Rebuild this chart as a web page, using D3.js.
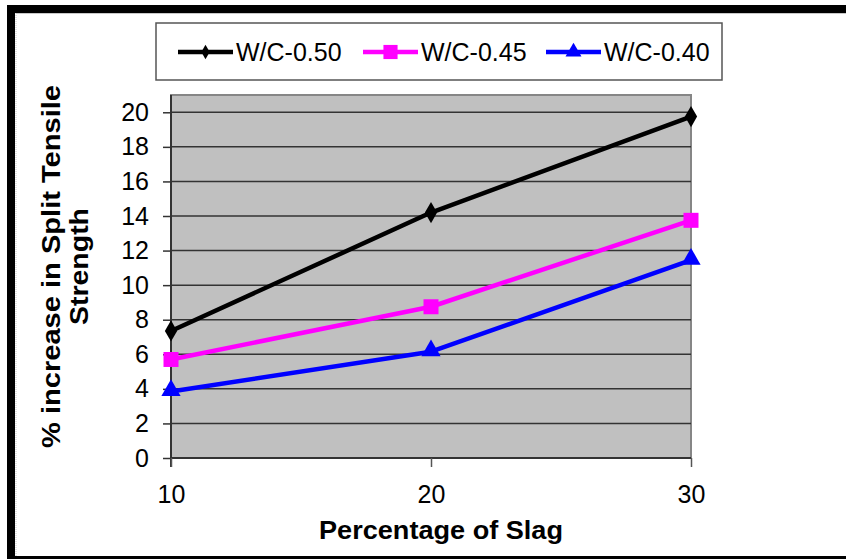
<!DOCTYPE html>
<html><head><meta charset="utf-8">
<script src="https://cdn.jsdelivr.net/npm/d3@7"></script>
<style>html,body{margin:0;padding:0;background:#fff;}svg{display:block;font-family:"Liberation Sans",Arial,sans-serif;}</style>
</head><body>
<svg id="c" width="846" height="559"></svg>
<script>
const categories = [10, 20, 30];
const seriesNames = ["W/C-0.50", "W/C-0.45", "W/C-0.40"];
const wc050 = [7.35, 14.2, 19.75];
const wc045 = [5.7, 8.75, 13.75];
const wc040 = [3.85, 6.15, 11.45];
const yTicks = [0, 2, 4, 6, 8, 10, 12, 14, 16, 18, 20];
const colors = ["#000000", "#ff00ff", "#0000ff"];
const markers = ["diamond", "square", "triangle"];
const xTitle = "Percentage of Slag";
const yTitle = ["% increase in Split Tensile", "Strength"];

const svg = d3.select("#c");
const L = 171, R = 691, T = 95, B = 458;
const x = d3.scalePoint().domain(categories).range([L, R]);
const y = d3.scaleLinear().domain([0, 21]).range([B, T]);

// outer frame
svg.append("rect").attr("x", 7).attr("y", 5).attr("width", 839).attr("height", 8).attr("fill", "#000");
svg.append("rect").attr("x", 7).attr("y", 5).attr("width", 8).attr("height", 554).attr("fill", "#000");
svg.append("rect").attr("x", 7).attr("y", 556).attr("width", 839).attr("height", 3).attr("fill", "#000");
svg.append("line").attr("x1", 16).attr("x2", 846).attr("y1", 13.5).attr("y2", 13.5).attr("stroke", "#c8c8c8").attr("stroke-width", 1);
svg.append("line").attr("x1", 16).attr("x2", 16).attr("y1", 13).attr("y2", 556).attr("stroke", "#c8c8c8").attr("stroke-width", 1).attr("stroke-dasharray", "1,1");

// plot area
svg.append("rect").attr("x", L).attr("y", T).attr("width", R - L).attr("height", B - T)
  .attr("fill", "#c0c0c0").attr("stroke", "#868686").attr("stroke-width", 2);

// gridlines
svg.append("g").selectAll("line").data(yTicks.filter(d => d > 0)).join("line")
  .attr("x1", L).attr("x2", R).attr("y1", d => y(d)).attr("y2", d => y(d))
  .attr("stroke", "#333").attr("stroke-width", 1.5);

// y axis
const yAxis = d3.axisLeft(y).tickValues(yTicks).tickSize(8).tickPadding(14).tickFormat(d3.format("d"));
const gy = svg.append("g").attr("transform", `translate(${L},0)`).call(yAxis);
gy.select(".domain").attr("stroke", "#333").attr("stroke-width", 2).attr("d", `M0,${T}V${B + 9}`);
gy.selectAll(".tick line").attr("stroke", "#333").attr("stroke-width", 1.5);
gy.selectAll(".tick text").attr("font-size", 25).attr("fill", "#000").attr("font-family", "Liberation Sans, Arial, sans-serif");

// x axis
const xAxis = d3.axisBottom(x).tickSize(9).tickPadding(18);
const gx = svg.append("g").attr("transform", `translate(0,${B})`).call(xAxis);
gx.select(".domain").attr("stroke", "#333").attr("stroke-width", 2).attr("d", `M${L},0H${R}`);
gx.selectAll(".tick line").attr("stroke", "#555").attr("stroke-width", 1.5);
gx.selectAll(".tick text").attr("font-size", 25).attr("fill", "#000").attr("font-family", "Liberation Sans, Arial, sans-serif");

// series
const allSeries = [wc050, wc045, wc040];
const sym = {
  diamond: d3.symbol().type(d3.symbolDiamond).size(130),
  square: d3.symbol().type(d3.symbolSquare).size(225),
  triangle: d3.symbol().type(d3.symbolTriangle).size(160)
};
const line = d3.line().x((d, i) => x(categories[i])).y(d => y(d));
allSeries.forEach((vals, si) => {
  svg.append("path").attr("d", line(vals)).attr("fill", "none")
    .attr("stroke", colors[si]).attr("stroke-width", 4.5).attr("stroke-linejoin", "round");
  svg.append("g").selectAll("path").data(vals).join("path")
    .attr("d", sym[markers[si]]())
    .attr("transform", (d, i) => `translate(${x(categories[i])},${y(d) + (markers[si] === "triangle" ? -1 : 0)})`)
    .attr("fill", colors[si]);
});

// legend
const lg = svg.append("g");
lg.append("rect").attr("x", 156).attr("y", 23).attr("width", 566).attr("height", 57)
  .attr("fill", "#fff").attr("stroke", "#555").attr("stroke-width", 1.5);
const legX = [178, 363, 546];
const legSym = {
  diamond: d3.symbol().type(d3.symbolDiamond).size(60),
  square: d3.symbol().type(d3.symbolSquare).size(200),
  triangle: d3.symbol().type(d3.symbolTriangle).size(110)
};
seriesNames.forEach((name, i) => {
  const g = lg.append("g");
  g.append("line").attr("x1", legX[i]).attr("x2", legX[i] + 55).attr("y1", 52).attr("y2", 52)
    .attr("stroke", colors[i]).attr("stroke-width", 4.5);
  g.append("path").attr("d", legSym[markers[i]]()).attr("transform", `translate(${legX[i] + 27.5},52)`).attr("fill", colors[i]);
  g.append("text").attr("x", legX[i] + 58).attr("y", 61).attr("font-size", 25).attr("fill", "#000").text(name);
});

// axis titles
svg.append("text").attr("x", 441).attr("y", 539).attr("text-anchor", "middle")
  .attr("font-size", 26).attr("font-weight", "bold").attr("textLength", 244).attr("lengthAdjust", "spacingAndGlyphs").text(xTitle);
const yt = svg.append("g").attr("transform", "translate(0,266.5) rotate(-90)");
yt.append("text").attr("x", 0).attr("y", 60).attr("text-anchor", "middle")
  .attr("font-size", 26).attr("font-weight", "bold").attr("textLength", 363).attr("lengthAdjust", "spacingAndGlyphs").text(yTitle[0]);
yt.append("text").attr("x", 0).attr("y", 88).attr("text-anchor", "middle")
  .attr("font-size", 26).attr("font-weight", "bold").attr("textLength", 117).attr("lengthAdjust", "spacingAndGlyphs").text(yTitle[1]);
</script>
</body></html>
